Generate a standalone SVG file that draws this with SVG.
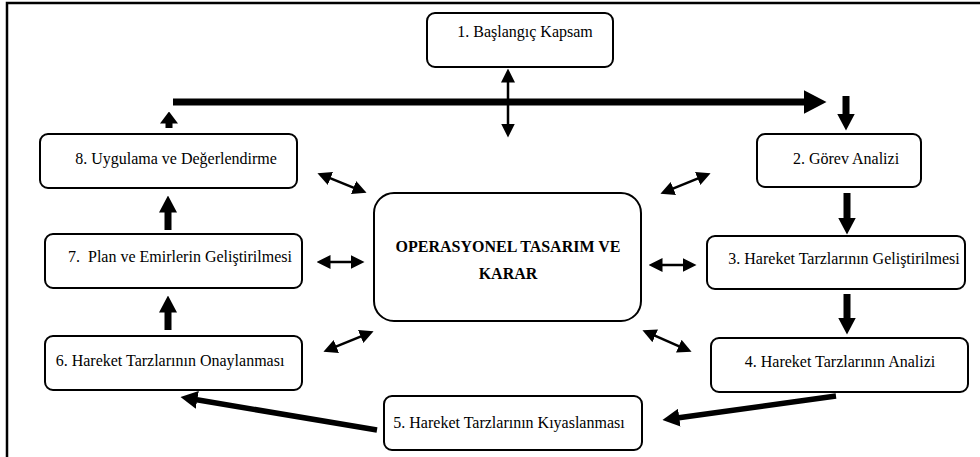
<svg xmlns="http://www.w3.org/2000/svg" width="980" height="457" viewBox="0 0 980 457">
<style>
  .box { fill: #ffffff; stroke: #000000; stroke-width: 2; }
  .lbl { font-family: "Liberation Serif", "Times New Roman", serif; font-size: 16px; fill: #000000; text-anchor: middle; white-space: pre; }
  .bold { font-weight: bold; }
  .thin { fill: none; stroke: #000000; stroke-width: 2.5; marker-start: url(#dbl); marker-end: url(#dbl); }
  .thick { fill: none; stroke: #000000; stroke-width: 7; }
  .diag { fill: none; stroke: #000000; stroke-width: 5.5; marker-end: url(#mid); }
</style>
<defs>
  <marker id="dbl" markerUnits="userSpaceOnUse" viewBox="0 0 14 14" markerWidth="14" markerHeight="14" refX="0.5" refY="7" orient="auto-start-reverse">
    <path d="M0,0 L14,7 L0,14 Z" fill="#000000"/>
  </marker>
  <marker id="mid" markerUnits="userSpaceOnUse" viewBox="0 0 17 18" markerWidth="17" markerHeight="18" refX="0.5" refY="9" orient="auto">
    <path d="M0,0 L17,9 L0,18 Z" fill="#000000"/>
  </marker>
  <marker id="small" markerUnits="userSpaceOnUse" viewBox="0 0 12 18" markerWidth="12" markerHeight="18" refX="0.5" refY="9" orient="auto">
    <path d="M0,0 L12,9 L0,18 Z" fill="#000000"/>
  </marker>
  <marker id="big" markerUnits="userSpaceOnUse" viewBox="0 0 23 24" markerWidth="23" markerHeight="24" refX="0.5" refY="12" orient="auto">
    <path d="M0,0 L23,12 L0,24 Z" fill="#000000"/>
  </marker>
</defs>

<path d="M7,457 V3 H980" fill="none" stroke="#000000" stroke-width="2.5"/>

<g id="connectors">
  <path class="thick" d="M173,102 H804" stroke-width="8" marker-end="url(#big)"/>
  <path class="thick" d="M169,128 V123" marker-end="url(#small)"/>
  <path class="thick" d="M168,230 V212" marker-end="url(#mid)"/>
  <path class="thick" d="M168,330 V312" marker-end="url(#mid)"/>
  <path class="thick" d="M846,96 V114" marker-end="url(#mid)"/>
  <path class="thick" d="M847,193 V218" marker-end="url(#mid)"/>
  <path class="thick" d="M847,294 V318" marker-end="url(#mid)"/>
  <path class="diag" d="M836,396 L678.8,417.7"/>
  <path class="diag" d="M377,430 L196.8,399.8"/>
  <path class="thin" d="M508,82 V124"/>
  <path class="thin" d="M330,178.2 L354,187.8"/>
  <path class="thin" d="M330,262 H351"/>
  <path class="thin" d="M335.9,346.7 L361.1,336.3"/>
  <path class="thin" d="M672.9,188.7 L698.1,178.3"/>
  <path class="thin" d="M662,265 H683"/>
  <path class="thin" d="M654.8,335.6 L679.2,346.4"/>
</g>

<g id="n1">
  <rect class="box" x="427" y="13" width="186" height="54" rx="8"/>
  <text class="lbl" x="525" y="37">1. Başlangıç Kapsam</text>
</g>
<g id="n2">
  <rect class="box" x="757" y="134" width="164" height="53" rx="8"/>
  <text class="lbl" x="846" y="164">2. Görev Analizi</text>
</g>
<g id="n3">
  <rect class="box" x="707" y="236" width="258" height="53" rx="8"/>
  <text class="lbl" x="844" y="264">3. Hareket Tarzlarının Geliştirilmesi</text>
</g>
<g id="n4">
  <rect class="box" x="711" y="338" width="257" height="54" rx="8"/>
  <text class="lbl" x="840" y="367">4. Hareket Tarzlarının Analizi</text>
</g>
<g id="n5">
  <rect class="box" x="384" y="396" width="258" height="54" rx="8"/>
  <text class="lbl" x="509" y="428">5. Hareket Tarzlarının Kıyaslanması</text>
</g>
<g id="n6">
  <rect class="box" x="45" y="336" width="257" height="54" rx="8"/>
  <text class="lbl" x="170" y="366">6. Hareket Tarzlarının Onaylanması</text>
</g>
<g id="n7">
  <rect class="box" x="45" y="234" width="257" height="54" rx="8"/>
  <text class="lbl" x="180" y="262">7.  Plan ve Emirlerin Geliştirilmesi</text>
</g>
<g id="n8">
  <rect class="box" x="40" y="134" width="257" height="54" rx="8"/>
  <text class="lbl" x="176" y="164">8. Uygulama ve Değerlendirme</text>
</g>
<g id="center">
  <rect class="box" x="374" y="193" width="267" height="128" rx="20"/>
  <text class="lbl bold" x="508" y="252">OPERASYONEL TASARIM VE</text>
  <text class="lbl bold" x="508" y="279">KARAR</text>
</g>
</svg>
